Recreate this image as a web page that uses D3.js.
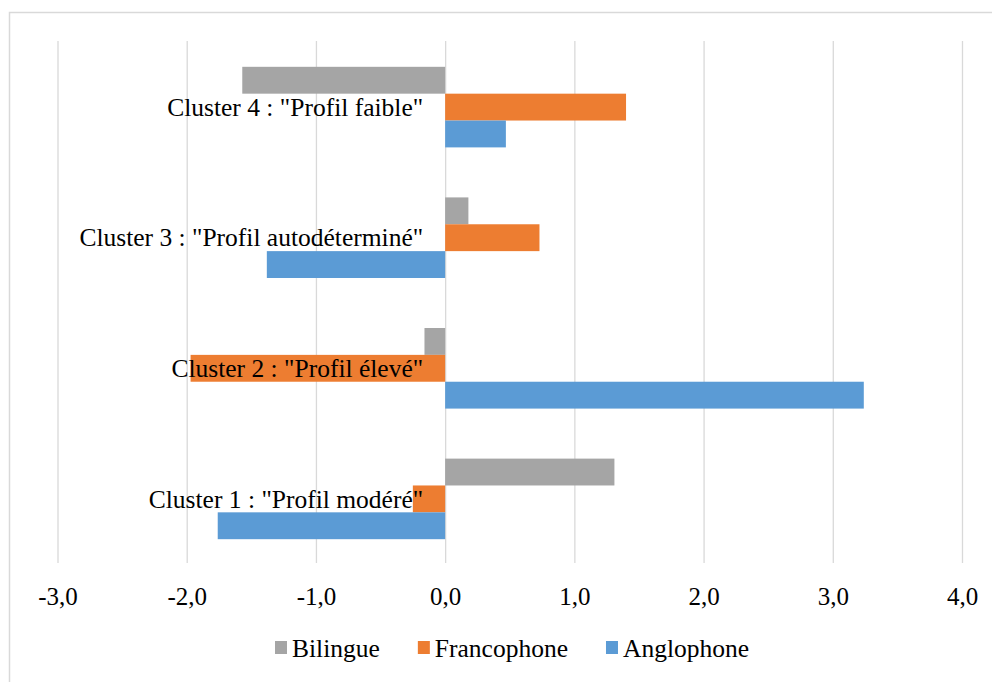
<!DOCTYPE html>
<html>
<head>
<meta charset="utf-8">
<script src="https://cdn.jsdelivr.net/npm/d3@7"></script>
<style>
  body { margin: 0; background: #fff; }
  svg { display: block; }
</style>
</head>
<body>
<svg id="chart" width="992" height="682"></svg>
<script>
// donnees
var categories = ['Cluster 1 : "Profil modéré"', 'Cluster 2 : "Profil élevé"', 'Cluster 3 : "Profil autodéterminé"', 'Cluster 4 : "Profil faible"'];
var series = ['Bilingue', 'Francophone', 'Anglophone'];
var bilingue = [1.31, -0.16, 0.18, -1.57];
var francophone = [-0.25, -1.97, 0.73, 1.40];
var anglophone = [-1.76, 3.24, -1.38, 0.47];
var tickValues = [-3, -2, -1, 0, 1, 2, 3, 4];
var colors = ['#a5a5a5', '#ed7d31', '#5b9bd5'];

var serif = '"Liberation Serif", "Times New Roman", serif';

var values = [bilingue, francophone, anglophone];
var rows = [];
series.forEach(function(s, i) {
  categories.forEach(function(c, j) {
    rows.push({serie: s, cat: c, v: values[i][j]});
  });
});

var svg = d3.select('#chart');

// cadre
svg.append('path')
  .attr('d', 'M9.5,682 V12.5 H992')
  .attr('fill', 'none')
  .attr('stroke', '#d9d9d9')
  .attr('stroke-width', 1.5);

var x = d3.scaleLinear()
  .domain([-3, 4])
  .range([57.5, 962]);

// cluster 4 en haut
var y = d3.scaleBand()
  .domain(categories.slice().reverse())
  .range([42, 564])
  .paddingInner(0.383)
  .paddingOuter(0.19);

var ySub = d3.scaleBand()
  .domain(series)
  .range([0, y.bandwidth()]);

var color = d3.scaleOrdinal().domain(series).range(colors);

var fmt = function(d) { return d3.format('.1f')(d).replace('.', ',').replace('\u2212', '-'); };

// grille verticale
svg.append('g')
  .attr('class', 'grid')
  .attr('transform', 'translate(0,563)')
  .call(d3.axisBottom(x).tickValues(tickValues).tickSize(-522).tickFormat(''))
  .call(function(g) {
    g.select('.domain').remove();
    g.selectAll('line').attr('stroke', '#d9d9d9').attr('stroke-width', 1.3);
  });

// barres
svg.append('g')
  .selectAll('rect')
  .data(rows)
  .enter().append('rect')
  .attr('x', function(d) { return x(Math.min(0, d.v)); })
  .attr('y', function(d) { return y(d.cat) + ySub(d.serie); })
  .attr('width', function(d) { return Math.abs(x(d.v) - x(0)); })
  .attr('height', ySub.bandwidth())
  .attr('fill', function(d) { return color(d.serie); });

// libelles des clusters
svg.append('g')
  .selectAll('text')
  .data(categories)
  .enter().append('text')
  .attr('x', x(0) - 22)
  .attr('y', function(d) { return y(d) + y.bandwidth() / 2; })
  .attr('dy', '0.34em')
  .attr('text-anchor', 'end')
  .style('font-family', serif)
  .style('font-size', '25.5px')
  .style('fill', '#000')
  .text(function(d) { return d; });

// axe x
svg.append('g')
  .attr('transform', 'translate(0,563)')
  .call(d3.axisBottom(x).tickValues(tickValues).tickSize(0).tickPadding(24).tickFormat(fmt))
  .call(function(g) {
    g.select('.domain').remove();
    g.attr('font-family', null).attr('font-size', null);
    g.selectAll('text')
      .style('font-family', serif)
      .style('font-size', '25px')
      .style('fill', '#000');
  });

// legende
var legend = svg.append('g').attr('transform', 'translate(275,648)');
var lx = 0;
series.forEach(function(s) {
  var item = legend.append('g').attr('transform', 'translate(' + lx + ',0)');
  item.append('rect')
    .attr('x', 0).attr('y', -7)
    .attr('width', 12).attr('height', 13)
    .attr('fill', color(s));
  var t = item.append('text')
    .attr('x', 17).attr('y', 0)
    .attr('dy', '0.34em')
    .style('font-family', serif)
    .style('font-size', '25.5px')
    .style('fill', '#000')
    .text(s);
  lx += 17 + t.node().getComputedTextLength() + 38;
});
</script>
</body>
</html>
